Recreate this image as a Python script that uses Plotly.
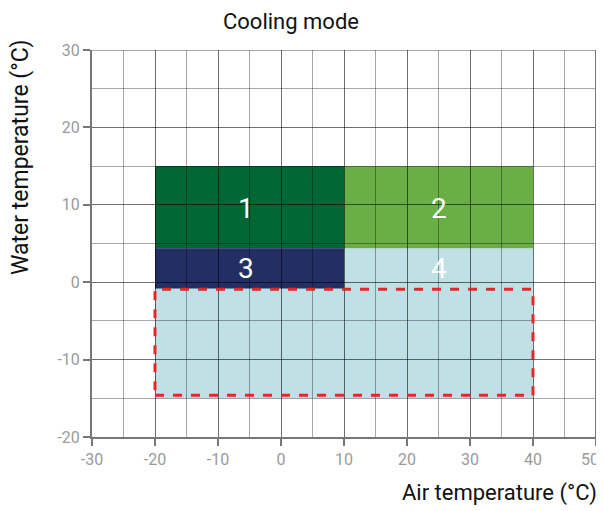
import plotly.graph_objects as go

# Regions (air temperature x-range, water temperature y-range)
region_names = ["bg", "1", "2", "3"]
region_x0 = [-20, -20, 10, -20]
region_x1 = [40, 10, 40, 10]
region_y0 = [-15, 4.4, 4.4, -0.8]
region_y1 = [4.4, 15, 15, 4.4]
region_colors = ["#BFE1E6", "#006633", "#6AAF45", "#232F64"]

label_texts = ["1", "2", "3", "4"]
label_x = [-5.5, 25, -5.5, 25]
label_y = [9.5, 9.5, 1.8, 1.8]

dash_x = [-20, 40]
dash_y = [-14.6, -0.9]

x_range = [-30, 50]
y_range = [-20, 30]
x_ticks = [-30, -20, -10, 0, 10, 20, 30, 40, 50]
x_ticktext = ["-30", "-20", "-10", "0", "10", "20", "30", "40", "50\u00a0\u00a0\u00a0"]
y_ticks = [-20, -10, 0, 10, 20, 30]
y_ticktext = ["-20", "-10", "0", "10", "20", "30"]

FONT = "Roboto, Liberation Sans, sans-serif"
GRID = "rgba(0,0,0,0.34)"
AXIS = "#777777"

# the page adds an 8px body margin; compensate so the plot lands where the reference has it
OFF = 8
W, H = 604 - OFF, 511 - OFF
L, T = 92 - OFF, 50 - OFF
PW, PH = 504, 387
R = W - L - PW
B = H - T - PH

fig = go.Figure()
fig.add_trace(go.Scatter(x=[None], y=[None], showlegend=False))

for x0, x1, y0, y1, c in zip(region_x0, region_x1, region_y0, region_y1, region_colors):
    fig.add_shape(type="rect", xref="x", yref="y", x0=x0, x1=x1, y0=y0, y1=y1,
                  fillcolor=c, line=dict(width=0), layer="below")

# edge lines at the far ends of the ranges (plotly drops gridlines at range ends)
fig.add_shape(type="line", xref="x", yref="y", x0=x_range[0], x1=x_range[1],
              y0=y_range[1], y1=y_range[1], line=dict(color=GRID, width=2), layer="above")
fig.add_shape(type="line", xref="x", yref="y", x0=x_range[1], x1=x_range[1],
              y0=y_range[0], y1=y_range[1], line=dict(color=AXIS, width=2), layer="above")

fig.add_shape(type="rect", xref="x", yref="y", x0=dash_x[0], x1=dash_x[1],
              y0=dash_y[0], y1=dash_y[1], line=dict(color="#E8262A", width=3, dash="dash"),
              fillcolor="rgba(0,0,0,0)", layer="above")

for t, x, y in zip(label_texts, label_x, label_y):
    fig.add_annotation(x=x, y=y, xref="x", yref="y", text=t, showarrow=False,
                       font=dict(family=FONT, size=28, color="white"))

axis_common = dict(showgrid=True, gridcolor=GRID, gridwidth=1,
                   showline=True, linecolor=AXIS, linewidth=2, ticks="outside", ticklen=7,
                   tickcolor=AXIS, tickwidth=2, zeroline=False,
                   ticklabeloverflow="allow",
                   tickfont=dict(family=FONT, size=16, color="#9A9A9A"))

fig.update_layout(
    width=W, height=H,
    margin=dict(l=L, r=R, t=T, b=B, autoexpand=False),
    paper_bgcolor="white", plot_bgcolor="white",
    showlegend=False,
    xaxis=dict(range=x_range, tickvals=x_ticks, ticktext=x_ticktext,
               minor=dict(dtick=5, tick0=0, showgrid=True, gridcolor=GRID, gridwidth=1),
               **axis_common),
    yaxis=dict(range=y_range, tickvals=y_ticks, ticktext=y_ticktext,
               minor=dict(dtick=5, tick0=0, showgrid=True, gridcolor=GRID, gridwidth=1),
               **axis_common),
)

fig.add_annotation(x=(291 - 92) / PW, y=1 + (50 - OFF) / PH, xref="paper", yref="paper",
                   text="Cooling mode", showarrow=False, xanchor="center", yanchor="top",
                   borderpad=0,
                   font=dict(family=FONT, size=22, color="#111111"))
fig.add_annotation(x=1 + (599 - 596) / PW, y=-(493 - 437) / PH, xref="paper", yref="paper",
                   text="Air temperature (°C)", showarrow=False, xanchor="right", yanchor="middle",
                   font=dict(family=FONT, size=22, color="#111111"))
fig.add_annotation(x=-(92 - 20) / PW, y=(437 - 158) / PH, xref="paper", yref="paper",
                   text="Water temperature (°C)", showarrow=False, textangle=-90,
                   xanchor="center", yanchor="middle",
                   font=dict(family=FONT, size=23, color="#111111"))

fig.write_html("out.html")
